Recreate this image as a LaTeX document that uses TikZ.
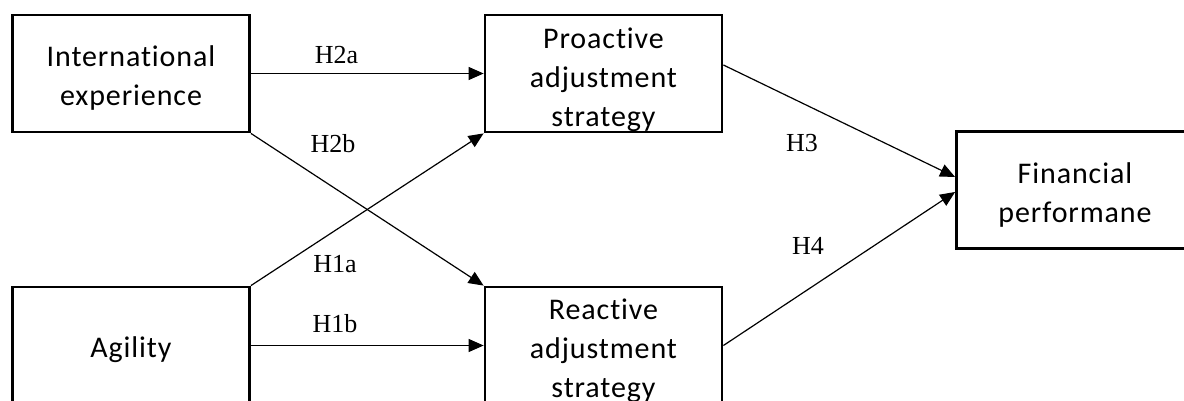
\documentclass[tikz,border=0pt]{standalone}
\usepackage{fontspec}
\usetikzlibrary{arrows.meta}
\newfontfamily\boxfont[LetterSpace=3, Ligatures=NoCommon]{Carlito}
\newfontfamily\hypfont{Liberation Serif}
\begin{document}
\begin{tikzpicture}[x=0.5pt, y=-0.5pt,
  varbox/.style={draw, line width=1.4pt, minimum width=118.5pt, minimum height=58.5pt, inner sep=0pt},
  boxtext/.style={align=center, inner sep=0pt, font=\fontsize{15}{19.5}\selectfont\boxfont},
  hyp/.style={font=\fontsize{13}{15}\selectfont\hypfont, inner sep=0pt},
  path/.style={line width=0.6pt, -{Triangle[length=7.5pt, width=6.5pt]}}]
\useasboundingbox (0,0) rectangle (1184,401);
% boxes
\node[varbox] (IE) at (131,73.5) {};
\node[varbox] (PAS) at (603.5,73.5) {};
\node[varbox] (FP) at (1075,190) {};
\node[varbox] (AG) at (131,345.5) {};
\node[varbox] (RAS) at (603.5,345.5) {};
% box texts
\node[boxtext] (IE_t) at ([yshift=-2.5pt]IE.center) {International\\experience};
\node[boxtext] (PAS_t) at ([yshift=-3pt]PAS.center) {Proactive\\adjustment\\strategy};
\node[boxtext] (FP_t) at ([yshift=-2.5pt]FP.center) {Financial\\performane};
\node[boxtext] (AG_t) at ([yshift=-2pt]AG.center) {Agility};
\node[boxtext] (RAS_t) at ([yshift=-2.5pt]RAS.center) {Reactive\\adjustment\\strategy};
% hypotheses
\draw[path] (IE.east) -- (PAS.west);
\draw[path] (IE.south east) -- (RAS.north west);
\draw[path] (AG.north east) -- (PAS.south west);
\draw[path] (AG.east) -- (RAS.west);
\draw[path] ([yshift=4.25pt]PAS.east) -- ([yshift=6.5pt]FP.west);
\draw[path] (RAS.east) -- ([yshift=-1pt]FP.west);
\node[hyp] (H2a) at (336.5,55) {H2a};
\node[hyp] (H2b) at (333,144) {H2b};
\node[hyp] (H1a) at (335,264) {H1a};
\node[hyp] (H1b) at (335,324) {H1b};
\node[hyp] (H3) at (802,143.5) {H3};
\node[hyp] (H4) at (808,245.5) {H4};
\end{tikzpicture}
\end{document}
